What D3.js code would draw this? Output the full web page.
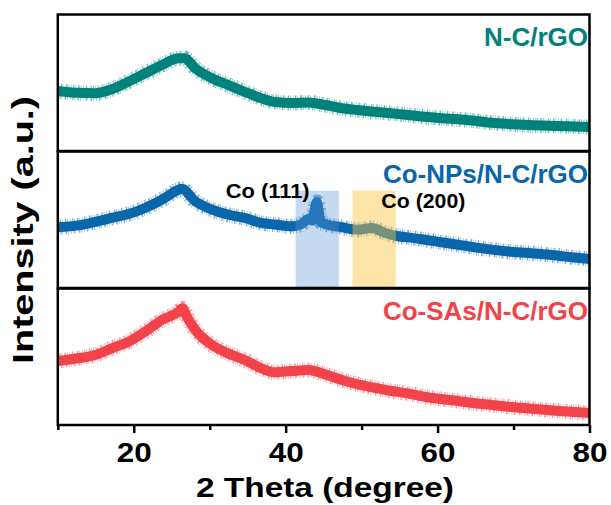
<!DOCTYPE html>
<html>
<head>
<meta charset="utf-8">
<script src="https://cdn.jsdelivr.net/npm/d3@7/dist/d3.min.js"></script>
<style>
  body { margin: 0; background: #ffffff; }
  text { font-family: Arial, "Liberation Sans", sans-serif; font-weight: bold; }
</style>
</head>
<body>
<div id="chart"></div>
<script>
// 2 Theta (degree) and intensity (a.u., 0-100 inside each panel)
const ncAngles = [10, 12.7, 14.9, 17.1, 19.3, 21.5, 23.7, 25.9, 26.7, 28.1, 30.3, 32.4, 34.6, 36.8, 38.6, 40.8,
  43, 45.2, 47.4, 49.5, 51.7, 53.9, 56.1, 58.3, 60.5, 62.7, 64.9, 67.1, 69.3, 72, 76, 80];
const ncValues = [44.0, 42.6, 42.3, 45.2, 50.8, 56.9, 63.0, 67.9, 67.9, 60.6, 53.3, 48.4, 43.4, 38.6, 35.9, 35.2,
  35.6, 33.7, 31.3, 30.0, 28.8, 27.6, 26.4, 25.1, 24.0, 23.2, 22.2, 20.7, 19.8, 19.0, 18.3, 17.6];

const npAngles = [10, 12.7, 14.9, 17.1, 19.3, 21.5, 23.7, 25.9, 26.3, 28.1, 30.3, 32.4, 34.6, 36.8, 38.6, 40.8,
  42.1, 43, 43.5, 44.1, 44.6, 45.2, 47.4, 49.5, 51.3, 53.1, 54.8, 56.1, 58.3, 60.5, 62.7, 64.9, 67.1, 69.3,
  72, 75, 78, 80];
const npValues = [44.5, 45.9, 48.4, 51.3, 54.2, 58.6, 64.7, 72.0, 72.7, 63.5, 57.4, 53.7, 51.3, 47.6, 46.5, 45.2,
  46.9, 50.5, 49.5, 63.0, 48.5, 46.9, 44.5, 42.7, 44.0, 40.3, 37.9, 37.1, 35.4, 33.5, 31.7, 29.8, 28.1, 26.7,
  25.6, 24.2, 22.3, 21.2];

const saAngles = [10, 12.7, 14.9, 17.1, 19.3, 21.5, 23.7, 25.9, 26.4, 27.0, 28.1, 30.3, 32.4, 34.6, 36.8, 38.6,
  40.8, 43, 45.2, 47.4, 49.5, 51.7, 53.9, 56.1, 58.3, 60.5, 62.7, 64.9, 67.1, 69.3, 72, 76, 80];
const saValues = [46.9, 48.9, 51.3, 56.2, 61.0, 68.4, 76.9, 83.0, 85.5, 79.3, 69.6, 58.6, 52.5, 47.6, 41.5, 38.6,
  39.6, 40.3, 37.1, 33.0, 29.8, 27.3, 24.9, 23.2, 20.7, 19.0, 17.6, 15.9, 14.7, 13.4, 12.1, 10.3, 8.8];

const sampleNames = ["N-C/rGO", "Co-NPs/N-C/rGO", "Co-SAs/N-C/rGO"];
const xTicks = [20, 40, 60, 80];
const xMinorTicks = [10, 30, 50, 70];
const peakNames = ["Co (111)", "Co (200)"];
const peakRanges = [[41.3, 47.0], [48.8, 54.5]];

const width = 611, height = 505;
const frame = {left: 57.8, right: 589.5, top: 14.5, bottom: 425};
const panelGap = 0.5;
const colors = ["#00827c", "#0a66ab", "#f2424a"];
const boxColors = ["#5a96d6", "#fbc440"];

const svg = d3.select("#chart").append("svg")
    .attr("width", width)
    .attr("height", height);

const x = d3.scaleLinear().domain([10, 80]).range([frame.left, frame.right]);

const series = [
  {angles: ncAngles, values: ncValues},
  {angles: npAngles, values: npValues},
  {angles: saAngles, values: saValues}
];

const panelH = (frame.bottom - frame.top - 2 * panelGap) / 3;
const panels = series.map((s, i) => {
  const top = frame.top + i * (panelH + panelGap);
  return {
    top: top,
    bottom: top + panelH,
    y: d3.scaleLinear().domain([0, 100]).range([top + panelH, top]),
    data: s.angles.map((a, j) => ({a: a, v: s.values[j]}))
  };
});

svg.append("defs").selectAll("clipPath")
  .data(panels)
  .join("clipPath")
    .attr("id", (d, i) => "clip" + i)
  .append("rect")
    .attr("x", frame.left)
    .attr("y", d => d.top)
    .attr("width", frame.right - frame.left)
    .attr("height", panelH);

// patterns: solid core plus a combed fringe for the noisy edge
panels.forEach((p, i) => {
  const line = d3.line()
      .x(d => x(d.a))
      .y(d => p.y(d.v))
      .curve(d3.curveMonotoneX);
  const g = svg.append("g").attr("clip-path", `url(#clip${i})`);
  g.append("path")
      .attr("d", line(p.data))
      .attr("fill", "none")
      .attr("stroke", colors[i])
      .attr("stroke-opacity", 0.55)
      .attr("stroke-width", 15)
      .attr("stroke-dasharray", "0.6 1.8 1.2 0.8 0.5 2.6 1.5 1.1 0.7 1.9")
      .attr("stroke-linejoin", "round");
  g.append("path")
      .attr("d", line(p.data))
      .attr("fill", "none")
      .attr("stroke", colors[i])
      .attr("stroke-width", 10)
      .attr("stroke-linejoin", "round");
});

// highlighted Co reflections in the middle panel
const mid = panels[1];
svg.selectAll(".peak-box")
  .data(peakRanges)
  .join("rect")
    .attr("class", "peak-box")
    .attr("x", d => x(d[0]))
    .attr("width", d => x(d[1]) - x(d[0]))
    .attr("y", mid.y(71.3))
    .attr("height", mid.bottom + 1.5 - mid.y(71.3))
    .attr("fill", (d, i) => boxColors[i])
    .attr("fill-opacity", (d, i) => i === 0 ? 0.35 : 0.45);

// panel frames
svg.selectAll(".panel-frame")
  .data(panels)
  .join("rect")
    .attr("class", "panel-frame")
    .attr("x", frame.left)
    .attr("y", d => d.top)
    .attr("width", frame.right - frame.left)
    .attr("height", panelH)
    .attr("fill", "none")
    .attr("stroke", "#000")
    .attr("stroke-width", 2.5);

// sample labels
svg.selectAll(".sample-label")
  .data(sampleNames)
  .join("text")
    .attr("class", "sample-label")
    .attr("x", 588)
    .attr("y", (d, i) => panels[i].top + 31)
    .attr("text-anchor", "end")
    .attr("font-size", 26)
    .attr("fill", (d, i) => colors[i])
    .text(d => d);

// peak labels
const peakLabelPos = [{a: 32.1, v: 66.3}, {a: 52.6, v: 58.6}];
svg.selectAll(".peak-label")
  .data(peakNames)
  .join("text")
    .attr("class", "peak-label")
    .attr("x", (d, i) => x(peakLabelPos[i].a))
    .attr("y", (d, i) => mid.y(peakLabelPos[i].v))
    .attr("font-size", 20)
    .attr("textLength", 84)
    .attr("lengthAdjust", "spacingAndGlyphs")
    .attr("fill", "#000")
    .text(d => d);

// x axis
const xAxis = d3.axisBottom(x)
    .tickValues(xTicks)
    .tickSize(8)
    .tickPadding(9)
    .tickFormat(d3.format("d"));
const xAxisG = svg.append("g")
    .attr("transform", `translate(0,${frame.bottom})`)
    .call(xAxis);
xAxisG.select(".domain").remove();
xAxisG.selectAll(".tick line").attr("stroke", "#000").attr("stroke-width", 2.5);
xAxisG.selectAll(".tick text")
    .attr("font-size", 27.5)
    .attr("fill", "#000")
    .attr("textLength", 35)
    .attr("lengthAdjust", "spacingAndGlyphs");

const xMinor = svg.append("g")
    .attr("transform", `translate(0,${frame.bottom})`)
    .call(d3.axisBottom(x).tickValues(xMinorTicks).tickSize(5).tickFormat(""));
xMinor.select(".domain").remove();
xMinor.selectAll(".tick line").attr("stroke", "#000").attr("stroke-width", 2.5);

// axis titles
svg.append("text")
    .attr("x", 325)
    .attr("y", 497)
    .attr("text-anchor", "middle")
    .attr("font-size", 27.5)
    .attr("textLength", 258)
    .attr("lengthAdjust", "spacingAndGlyphs")
    .text("2 Theta (degree)");

svg.append("text")
    .attr("transform", "translate(33,230) rotate(-90)")
    .attr("text-anchor", "middle")
    .attr("font-size", 30)
    .attr("textLength", 268)
    .attr("lengthAdjust", "spacingAndGlyphs")
    .text("Intensity (a.u.)");
</script>
</body>
</html>
